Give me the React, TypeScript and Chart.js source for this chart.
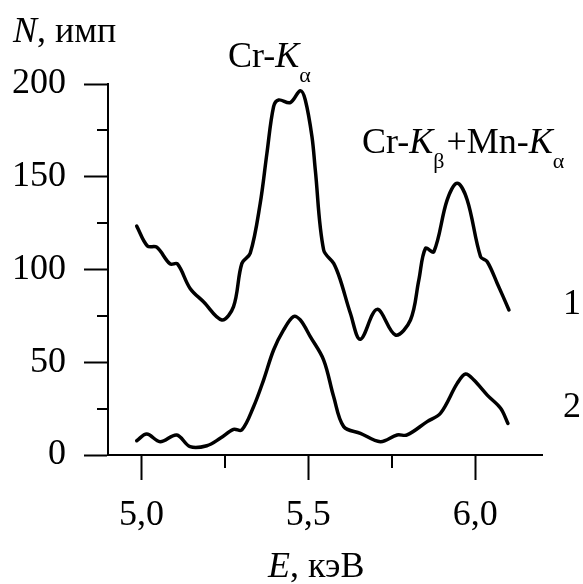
import React, { useEffect, useRef } from "react";
import { Chart, registerables } from "chart.js";

Chart.register(...registerables);

const energy1 = [4.986, 5.018, 5.046, 5.086, 5.108, 5.146, 5.186, 5.241, 5.276, 5.301, 5.326, 5.356, 5.376, 5.396, 5.411, 5.446, 5.476, 5.491, 5.511, 5.521, 5.546, 5.576, 5.596, 5.626, 5.656, 5.706, 5.761, 5.806, 5.831, 5.851, 5.876, 5.916, 5.946, 5.976, 6.016, 6.036, 6.066, 6.101];
const counts1 = [123.4, 112.7, 112, 103, 103, 89.8, 82.6, 72.8, 80, 103.3, 108.7, 135.7, 162.6, 187.8, 191.4, 190, 196.4, 191.4, 171.6, 153.6, 110.5, 103.3, 94.3, 76.4, 62.4, 78.5, 64.7, 72.8, 94.3, 111.4, 109.6, 137.5, 146.5, 137.5, 106.9, 104.2, 92.5, 78.2];

const energy2 = [4.986, 5.016, 5.056, 5.106, 5.146, 5.196, 5.236, 5.276, 5.301, 5.336, 5.366, 5.396, 5.426, 5.456, 5.476, 5.506, 5.546, 5.576, 5.606, 5.656, 5.716, 5.766, 5.796, 5.856, 5.896, 5.946, 5.971, 5.996, 6.036, 6.076, 6.098];
const counts2 = [7.7, 11.3, 7.2, 10.8, 4.5, 5, 9, 13.8, 13.5, 26, 40.4, 56.6, 67.4, 74.6, 72.8, 63.8, 51.2, 31.4, 15.3, 11.7, 7.2, 10.8, 10.8, 18, 22.5, 38.6, 43.7, 40.4, 32.3, 25.2, 17];

const xMajorTicks = [5.0, 5.5, 6.0];
const xMinorTicks = [5.25, 5.75];
const yMajorTicks = [0, 50, 100, 150, 200];
const yMinorTicks = [25, 75, 125, 175];
const curveLabels = ["1", "2"];

const FAMILY = '"Liberation Serif", "Times New Roman", serif';

type Run = { text: string; italic?: boolean; sub?: boolean };

function drawRuns(ctx: CanvasRenderingContext2D, x: number, y: number, runs: Run[]) {
  let cx = x;
  ctx.textAlign = "left";
  ctx.textBaseline = "alphabetic";
  ctx.fillStyle = "#000";
  for (const r of runs) {
    const size = r.sub ? 22 : 36;
    ctx.font = `${r.italic ? "italic " : ""}${size}px ${FAMILY}`;
    ctx.fillText(r.text, cx, r.sub ? y + 15 : y);
    cx += ctx.measureText(r.text).width + (r.sub ? 2 : 0);
  }
}

const isMajorX = (v: number) => xMajorTicks.some((m) => Math.abs(m - v) < 1e-6);
const isMajorY = (v: number) => yMajorTicks.some((m) => Math.abs(m - v) < 1e-6);

const decorPlugin = {
  id: "decor",
  afterDraw(chart: any) {
    const ctx: CanvasRenderingContext2D = chart.ctx;
    const xs = chart.scales.x;
    const ys = chart.scales.y;
    ctx.save();
    ctx.strokeStyle = "#000";
    ctx.lineWidth = 2;
    const bottom = chart.chartArea.bottom;
    const left = chart.chartArea.left;
    for (const v of xMinorTicks) {
      const px = Math.round(xs.getPixelForValue(v));
      ctx.beginPath();
      ctx.moveTo(px, bottom);
      ctx.lineTo(px, bottom + 13);
      ctx.stroke();
    }
    for (const v of yMinorTicks) {
      const py = Math.round(ys.getPixelForValue(v));
      ctx.beginPath();
      ctx.moveTo(left, py);
      ctx.lineTo(left - 11, py);
      ctx.stroke();
    }
    // axis titles
    drawRuns(ctx, 13, 42, [{ text: "N", italic: true }, { text: ", имп" }]);
    drawRuns(ctx, 268, 577, [{ text: "E", italic: true }, { text: ", кэВ" }]);
    // peak annotations
    drawRuns(ctx, 228, 67, [{ text: "Cr-" }, { text: "K", italic: true }, { text: "α", sub: true }]);
    drawRuns(ctx, 362, 153, [
      { text: "Cr-" },
      { text: "K", italic: true },
      { text: "β", sub: true },
      { text: "+Mn-" },
      { text: "K", italic: true },
      { text: "α", sub: true },
    ]);
    // curve labels
    ctx.font = `36px ${FAMILY}`;
    ctx.textAlign = "center";
    ctx.fillText(curveLabels[0], 572, 314);
    ctx.fillText(curveLabels[1], 572, 417);
    ctx.restore();
  },
};

export default function App() {
  const ref = useRef<HTMLCanvasElement | null>(null);
  useEffect(() => {
    if (!ref.current) return;
    const chart = new Chart(ref.current, {
      type: "line",
      data: {
        datasets: [
          {
            data: energy1.map((x, i) => ({ x, y: counts1[i] })),
            borderColor: "#000",
            borderWidth: 3.5,
            pointRadius: 0,
            tension: 0.35,
            borderJoinStyle: "round",
            borderCapStyle: "round",
            fill: false,
          },
          {
            data: energy2.map((x, i) => ({ x, y: counts2[i] })),
            borderColor: "#000",
            borderWidth: 3.5,
            pointRadius: 0,
            tension: 0.35,
            borderJoinStyle: "round",
            borderCapStyle: "round",
            fill: false,
          },
        ],
      },
      options: {
        animation: false,
        responsive: false,
        devicePixelRatio: 1,
        layout: { padding: { top: 84, right: 41, left: 0, bottom: 0 } },
        plugins: { legend: { display: false }, tooltip: { enabled: false } },
        scales: {
          x: {
            type: "linear",
            min: 4.9,
            max: 6.2,
            afterBuildTicks: (s: any) => {
              s.ticks = [...xMajorTicks, ...xMinorTicks].sort((a, b) => a - b).map((v) => ({ value: v }));
            },
            afterFit: (s: any) => {
              s.height = 129;
            },
            ticks: {
              autoSkip: false,
              maxRotation: 0,
              padding: 14,
              color: "#000",
              font: { family: FAMILY, size: 36 },
              callback: (v: any) => (isMajorX(Number(v)) ? Number(v).toFixed(1).replace(".", ",") : ""),
            },
            grid: {
              drawOnChartArea: false,
              tickLength: 25,
              tickWidth: 2,
              tickColor: (c: any) => (c.tick && isMajorX(c.tick.value) ? "#000" : "rgba(0,0,0,0)"),
            },
            border: { color: "#000", width: 2 },
          },
          y: {
            min: 0,
            max: 200,
            afterBuildTicks: (s: any) => {
              s.ticks = [...yMajorTicks, ...yMinorTicks].sort((a, b) => a - b).map((v) => ({ value: v }));
            },
            afterFit: (s: any) => {
              s.width = 108;
            },
            ticks: {
              autoSkip: false,
              padding: 18,
              color: "#000",
              font: { family: FAMILY, size: 36 },
              callback: (v: any) => (isMajorY(Number(v)) ? String(v) : ""),
            },
            grid: {
              drawOnChartArea: false,
              tickLength: 24,
              tickWidth: 2,
              tickColor: (c: any) => (c.tick && isMajorY(c.tick.value) ? "#000" : "rgba(0,0,0,0)"),
            },
            border: { color: "#000", width: 2 },
          },
        },
      },
      plugins: [decorPlugin],
    } as any);
    return () => chart.destroy();
  }, []);
  return (
    <div style={{ position: "fixed", left: 0, top: 0, width: 583, height: 584, background: "#fff" }}>
      <canvas ref={ref} width={583} height={584} />
    </div>
  );
}
